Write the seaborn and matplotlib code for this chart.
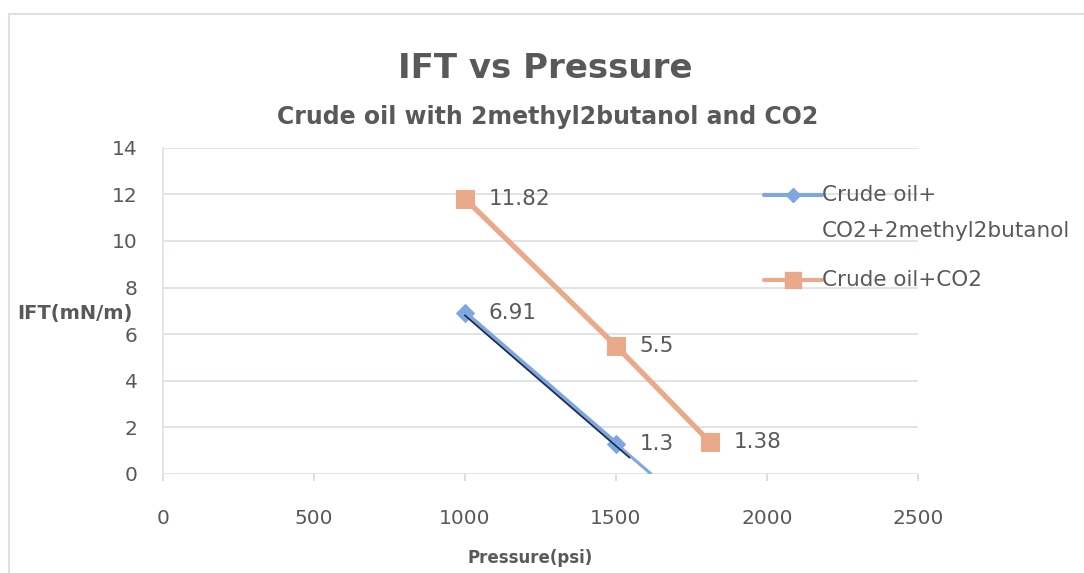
import matplotlib
matplotlib.use('Agg')
import matplotlib.pyplot as plt
from matplotlib.lines import Line2D
from matplotlib.patches import Rectangle
import numpy as np
import pandas as pd
import seaborn as sns

# ── Data ─────────────────────────────────────────────────────────────────────
orange_label = 'Crude oil+CO2'
blue_x = [1000, 1500]
blue_y = [6.91, 1.3]
orange_x = [1000, 1500, 1810]
orange_y = [11.82, 5.5, 1.38]
trend_x = [1000, 1615]          # light blue forecast trendline extent
trend_dark_x = [1000, 1545]     # dark thin trendline extent
x_ticks = [0, 500, 1000, 1500, 2000, 2500]
y_ticks = [0, 2, 4, 6, 8, 10, 12, 14]

BLUE = '#7EA6E0'
ORANGE = '#E9A98A'
GREY = '#595959'

df = pd.DataFrame({
    'Pressure': blue_x + orange_x,
    'IFT': blue_y + orange_y,
    'series': ['blue'] * len(blue_x) + ['orange'] * len(orange_x),
})

sns.set_theme(style='white')
plt.rcParams['font.family'] = ['DejaVu Sans']

fig = plt.figure(figsize=(10.84, 5.73), dpi=100)
ax = fig.add_axes([0.150, 0.173, 0.697, 0.569])

# ── Trendlines ──────────────────────────────────────────────────────────────
coef = np.polyfit(blue_x, blue_y, 1)
tx = np.array(trend_x)
ax.plot(tx, np.polyval(coef, tx), color=BLUE, lw=2.2, zorder=2)
tdx = np.array(trend_dark_x)
ax.plot(tdx, np.polyval(coef, tdx) - 0.1, color='#1F2A44', lw=1.2, zorder=4)

# ── Series ──────────────────────────────────────────────────────────────────
sns.lineplot(data=df[df.series == 'orange'], x='Pressure', y='IFT', ax=ax,
             color=ORANGE, lw=3.8, marker='s', markersize=13,
             markeredgecolor=ORANGE, zorder=3)
sns.lineplot(data=df[df.series == 'blue'], x='Pressure', y='IFT', ax=ax,
             color=BLUE, lw=3.8, marker='D', markersize=9,
             markeredgecolor=BLUE, zorder=3)

for xs, ys in [(blue_x, blue_y), (orange_x, orange_y)]:
    for x, y in zip(xs, ys):
        ax.annotate(f'{y:g}', (x, y), xytext=(17, 0), textcoords='offset points',
                    va='center', ha='left', fontsize=15.5, color=GREY)

# ── Axes ────────────────────────────────────────────────────────────────────
ax.set_xlim(0, 2500)
ax.set_ylim(0, 14)
ax.set_xticks(x_ticks)
ax.set_yticks(y_ticks)
ax.tick_params(axis='both', labelsize=14.5, labelcolor=GREY)
ax.tick_params(axis='x', bottom=True, length=5, color='#d9d9d9', pad=20)
ax.tick_params(axis='y', left=False, pad=12)
ax.grid(axis='y', color='#d8e0e3', lw=1.2)
for s in ['top', 'right', 'bottom']:
    ax.spines[s].set_visible(False)
ax.spines['left'].set_color('#e2e2e2')
ax.set_xlabel('')
ax.set_ylabel('')

fig.text(0.016, 0.453, 'IFT(mN/m)', fontsize=14, fontweight='bold', color=GREY,
         ha='left', va='center')
fig.text(0.489, 0.026, 'Pressure(psi)', fontsize=12, fontweight='bold', color=GREY,
         ha='center', va='center')

fig.text(0.503, 0.880, 'IFT vs Pressure', fontsize=24.5, fontweight='bold', color=GREY,
         ha='center', va='center')
fig.text(0.505, 0.796, 'Crude oil with 2methyl2butanol and CO2', fontsize=17,
         fontweight='bold', color=GREY, ha='center', va='center')

# ── Legend (drawn by hand so the marker sits on the first line) ─────────────
fig.add_artist(Line2D([0.705, 0.732, 0.758], [0.660, 0.660, 0.660], color=BLUE,
                      lw=3, marker='D', markersize=7, markevery=[1],
                      transform=fig.transFigure))
fig.add_artist(Line2D([0.705, 0.732, 0.758], [0.512, 0.512, 0.512], color=ORANGE,
                      lw=3, marker='s', markersize=11, markevery=[1],
                      transform=fig.transFigure))
fig.text(0.758, 0.660, 'Crude oil+', fontsize=15.5, color=GREY, va='center', ha='left')
fig.text(0.758, 0.597, 'CO2+2methyl2butanol', fontsize=15.5, color=GREY,
         va='center', ha='left')
fig.text(0.758, 0.512, orange_label, fontsize=15.5, color=GREY, va='center', ha='left')

# chart border
fig.add_artist(Rectangle((0.008, -0.05), 1.1, 1.025, transform=fig.transFigure,
                         fill=False, edgecolor='#e0e0e0', lw=1.5))

fig.savefig('out.png', dpi=100)
